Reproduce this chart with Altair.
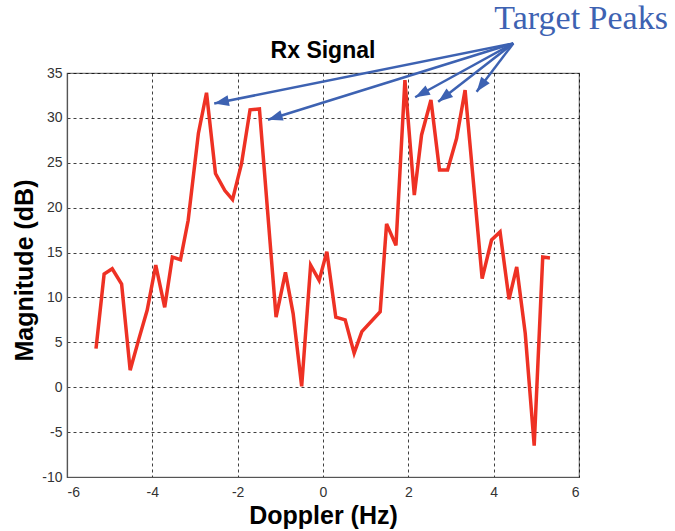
import math
import altair as alt
import pandas as pd

# ---- data ----
doppler = [-5.32, -5.13, -4.94, -4.72, -4.52, -4.32, -4.12, -3.92, -3.71, -3.53,
           -3.34, -3.16, -2.92, -2.73, -2.52, -2.30, -2.12, -1.91, -1.71, -1.49,
           -1.10, -0.88, -0.70, -0.50, -0.29, -0.09, 0.09, 0.30, 0.52, 0.73,
           0.91, 1.34, 1.49, 1.71, 1.92, 2.14, 2.31, 2.53, 2.73, 2.92,
           3.13, 3.33, 3.73, 3.95, 4.15, 4.36, 4.54, 4.74, 4.95, 5.15, 5.32]
magnitude = [4.3, 12.6, 13.2, 11.5, 1.9, 5.3, 8.6, 13.6, 8.9, 14.5,
             14.2, 18.6, 28.3, 32.8, 23.8, 21.9, 20.9, 24.9, 30.9, 31.0,
             7.8, 12.8, 8.2, 0.1, 13.6, 11.9, 15.1, 7.8, 7.5, 3.8,
             6.2, 8.4, 18.2, 15.8, 34.2, 21.4, 28.1, 32.0, 24.2, 24.2,
             27.7, 33.1, 12.1, 16.4, 17.3, 9.8, 13.4, 6.0, -6.5, 14.5, 14.4]

x_ticks = [-6, -4, -2, 0, 2, 4, 6]
y_ticks = [-10, -5, 0, 5, 10, 15, 20, 25, 30, 35]

chart_title = ["Rx Signal"]

# annotation: arrows from the label to the target peaks
arrow_origin = (4.46, 38.3)
arrow_tip_x = [-2.55, -1.29, 2.16, 2.70, 3.60]
arrow_tip_y = [31.6, 29.8, 32.3, 31.8, 32.9]
label_text = ["Target Peaks"]
label_x = [6.05]
label_y = [39.9]

# ---- layout ----
W, H = 512, 404
XD = [-6, 6]
YD = [-10, 35]
px_x = W / (XD[1] - XD[0])
px_y = H / (YD[1] - YD[0])

RED = "#ee3124"
BLUE = "#3d62b2"

series = pd.DataFrame({"Doppler": doppler, "Magnitude": magnitude})

angles = []
for tx, ty in zip(arrow_tip_x, arrow_tip_y):
    dx = (tx - arrow_origin[0]) * px_x
    dy = -(ty - arrow_origin[1]) * px_y
    a = math.degrees(math.atan2(dx, -dy)) % 360
    angles.append(a)

arrows = pd.DataFrame({
    "x0": [arrow_origin[0]] * len(arrow_tip_x),
    "y0": [arrow_origin[1]] * len(arrow_tip_x),
    "x1": arrow_tip_x,
    "y1": arrow_tip_y,
    "angle": angles,
})
labels = pd.DataFrame({"x": label_x, "y": label_y, "t": label_text})
titles = pd.DataFrame({"t": chart_title})

xscale = alt.Scale(domain=XD, nice=False, zero=False)
yscale = alt.Scale(domain=YD, nice=False, zero=False)

plain = "datum.value + ''"
xaxis = alt.Axis(values=x_ticks, title="Doppler (Hz)", ticks=False,
                 labelPadding=8, titleBaseline="alphabetic", titleY=46,
                 labelExpr=plain)
yaxis = alt.Axis(values=y_ticks, title="Magnitude (dB)", ticks=False,
                 labelPadding=5, titleBaseline="alphabetic", titleX=-35,
                 titleY=197, labelExpr=plain)

line = alt.Chart(series).mark_line(color=RED, strokeWidth=3.5,
                                   strokeJoin="miter", strokeMiterLimit=4).encode(
    x=alt.X("Doppler:Q", scale=xscale, axis=xaxis),
    y=alt.Y("Magnitude:Q", scale=yscale, axis=yaxis),
)

shafts = alt.Chart(arrows).mark_rule(color=BLUE, strokeWidth=2.5).encode(
    x=alt.X("x0:Q", scale=xscale),
    y=alt.Y("y0:Q", scale=yscale),
    x2="x1:Q",
    y2="y1:Q",
)

heads = alt.Chart(arrows).mark_point(
    shape="M0,0 L-0.62,1.7 L0.62,1.7 Z", filled=True, color=BLUE,
    size=300, opacity=1,
).encode(
    x=alt.X("x1:Q", scale=xscale),
    y=alt.Y("y1:Q", scale=yscale),
    angle=alt.Angle("angle:Q", scale=None),
)

label = alt.Chart(labels).mark_text(
    font="Liberation Serif", fontSize=34, color=BLUE, align="center",
    baseline="alphabetic",
).encode(
    x=alt.X("x:Q", scale=xscale),
    y=alt.Y("y:Q", scale=yscale),
    text="t:N",
)

title_mark = alt.Chart(titles).mark_text(
    font="Liberation Sans", fontSize=23, fontWeight="bold", color="#000",
    align="center", baseline="alphabetic",
).encode(
    x=alt.value(W / 2),
    y=alt.value(-15),
    text="t:N",
)

chart = alt.layer(line, shafts, heads, label, title_mark).properties(
    width=W, height=H,
    background="white",
    autosize=alt.AutoSizeParams(type="none"),
    padding={"left": 67, "top": 73, "right": 96, "bottom": 54},
).configure_view(
    stroke="#777", strokeWidth=1.2,
).configure_axis(
    labelFont="Liberation Sans", labelFontSize=14, labelColor="#333",
    titleFont="Liberation Sans", titleFontSize=25, titleFontWeight="bold",
    titleColor="#000",
    domainColor="#555", domainWidth=1.2,
    grid=True, gridColor="#000", gridDash=[3, 3], gridOpacity=0.75,
    gridWidth=1,
)

chart.save("out.html", embed_options={"renderer": "svg", "actions": False})
